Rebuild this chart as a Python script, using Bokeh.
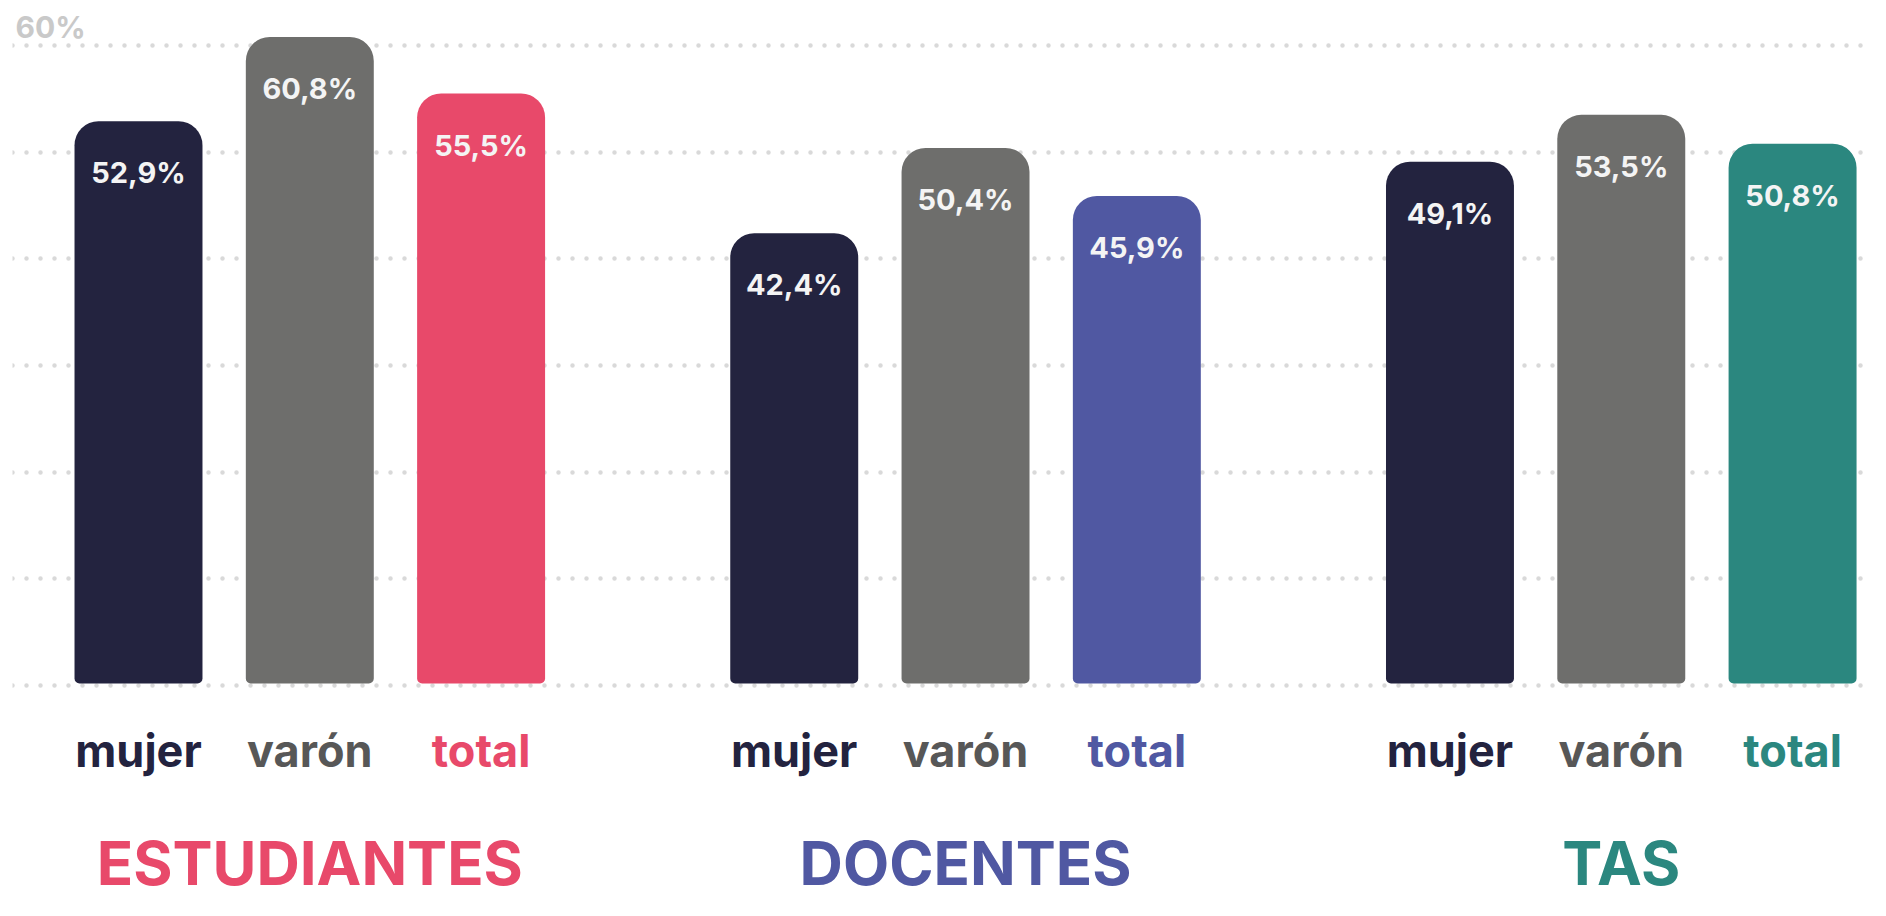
from bokeh.plotting import figure
from bokeh.models import Range1d, FixedTicker, Grid, Label, ColumnDataSource
from bokeh.core.properties import value
from bokeh.embed import file_html
from bokeh.resources import INLINE

# ---------------- data ----------------
groups = ["ESTUDIANTES", "DOCENTES", "TAS"]
subgroups = ["mujer", "varón", "total"]
estudiantes = [52.9, 60.8, 55.5]
docentes = [42.4, 50.4, 45.9]
tas = [49.1, 53.5, 50.8]
y_ticks = [0, 10, 20, 30, 40, 50, 60]
top_tick_label = "60%"

# ---------------- styles ----------------
group_colors = ["#e8496a", "#5058a2", "#2b877f"]
mujer_color = "#23233f"
varon_bar_color = "#6e6e6c"
varon_text_color = "#575757"
value_text_color = "#f4f4f4"
grid_color = "#d9d9d9"
tick_label_color = "#c9c9c9"
FONT = "Inter"
MID = 0.36  # baseline distance below a "middle" anchor, in em

# ---------------- layout ----------------
W, H = 1870, 900
frame_left = 12
px_per_x = 171.3
group_gap = 0.828
first_center_px = 126
x_start = -first_center_px / px_per_x
x_end = x_start + (W - frame_left) / px_per_x

px_per_y = 10.667
top_line_px = 45
y_end = y_ticks[-1] + top_line_px / px_per_y
y_start = y_ticks[-1] - (H - top_line_px) / px_per_y

val_fs, lab_fs, title_fs, tick_fs = 29, 45, 60, 30
lab_base_px = 81      # sub-label baseline below zero line
title_base_px = 199   # title baseline below zero line
val_base_px = 62      # value baseline below bar top

all_values = [estudiantes, docentes, tas]

xs, tops, bar_colors, val_texts = [], [], [], []
lab_x, lab_text, lab_colors = [], [], []
for j, (g, vals) in enumerate(zip(groups, all_values)):
    cols_bar = [mujer_color, varon_bar_color, group_colors[j]]
    cols_txt = [mujer_color, varon_text_color, group_colors[j]]
    for k, (s, v) in enumerate(zip(subgroups, vals)):
        x = j * (len(subgroups) + group_gap) + k
        xs.append(x)
        tops.append(v)
        bar_colors.append(cols_bar[k])
        val_texts.append(f"{v:.1f}".replace(".", ",") + "%")
        lab_x.append(x)
        lab_text.append(s)
        lab_colors.append(cols_txt[k])

title_x = [j * (len(subgroups) + group_gap) + (len(subgroups) - 1) / 2 for j in range(len(groups))]

lab_y = -(lab_base_px - MID * lab_fs) / px_per_y
title_y = -(title_base_px - MID * title_fs) / px_per_y

src = ColumnDataSource(dict(x=xs, top=tops, color=bar_colors, vt=val_texts))
lab_src = ColumnDataSource(dict(x=lab_x, y=[lab_y] * len(lab_x), t=lab_text, c=lab_colors))
title_src = ColumnDataSource(dict(x=title_x, y=[title_y] * len(groups), t=groups, c=group_colors))

p = figure(width=W, height=H, output_backend="svg", toolbar_location=None,
           x_range=Range1d(x_start, x_end), y_range=Range1d(y_start, y_end),
           x_axis_location=None, y_axis_location=None,
           min_border_left=frame_left, min_border_right=0, min_border_top=0, min_border_bottom=0)
p.outline_line_color = None
p.background_fill_color = "white"
p.border_fill_color = "white"
p.xgrid.visible = False
p.ygrid.visible = False

grid = Grid(dimension=1, ticker=FixedTicker(ticks=y_ticks),
            grid_line_color=grid_color, grid_line_width=4.5,
            grid_line_dash="0 14", grid_line_cap="round")
p.add_layout(grid)

p.vbar(x="x", top="top", bottom=0.2, width=0.747, fill_color="color", line_color=None,
       border_radius=(24, 24, 5, 5), source=src)

p.text(x="x", y="top", text="vt", source=src, text_align="center", text_baseline="middle",
       y_offset=val_base_px - MID * val_fs, text_color=value_text_color, text_font=value(FONT),
       text_font_style="bold", text_font_size=f"{val_fs}px")

p.text(x="x", y="y", text="t", source=lab_src, text_align="center", text_baseline="middle",
       text_color="c", text_font=value(FONT), text_font_style="bold", text_font_size=f"{lab_fs}px")

p.text(x="x", y="y", text="t", source=title_src, text_align="center", text_baseline="middle",
       text_color="c", text_font=value(FONT), text_font_style="bold", text_font_size=f"{title_fs}px")

p.add_layout(Label(x=x_start + 3 / px_per_x, y=y_ticks[-1], y_offset=8 + MID * tick_fs,
                   text=top_tick_label, text_baseline="middle", text_align="left",
                   text_color=tick_label_color, text_font=FONT, text_font_style="bold",
                   text_font_size=f"{tick_fs}px"))

open("out.html", "w").write(file_html(p, INLINE))
